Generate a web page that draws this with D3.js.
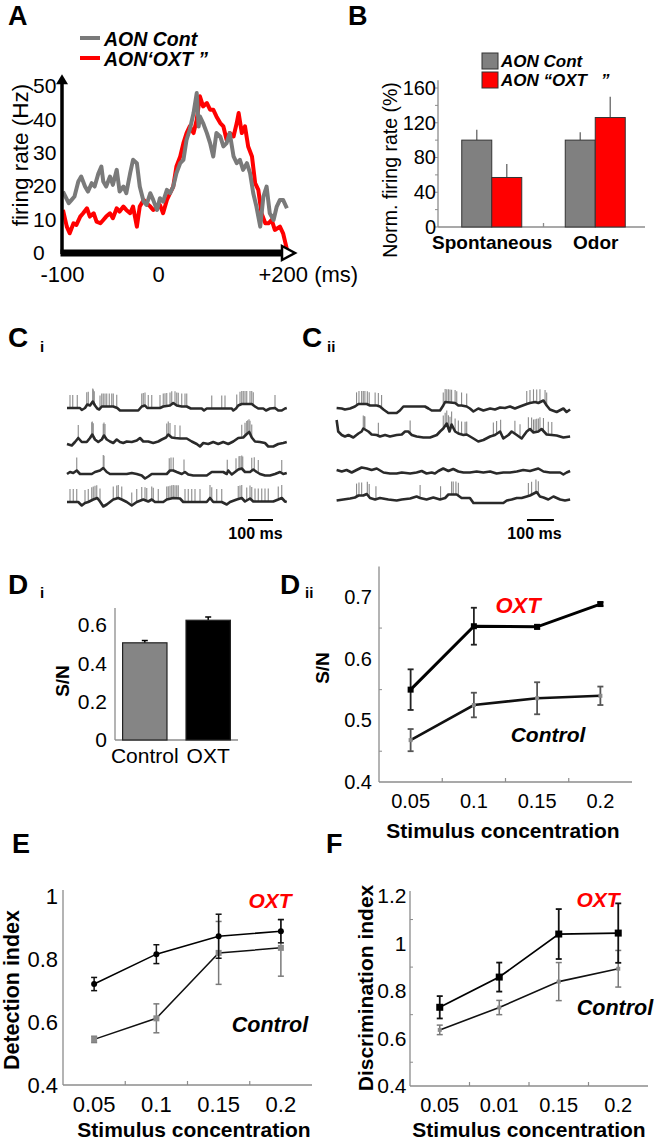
<!DOCTYPE html>
<html><head><meta charset="utf-8">
<script src="https://cdn.jsdelivr.net/npm/d3@7"></script>
<style>body{margin:0;background:#fff}</style>
</head><body>
<svg id="c" width="656" height="1140" xmlns="http://www.w3.org/2000/svg"></svg>
<script>
// ---------------- DATA ----------------
// Panel A: PSTH traces [ms, Hz]
const aXTicks = [-100, 0, 200];
const aYTicks = [0, 10, 20, 30, 40, 50];
const aSeries = ["AON Cont", "AON‘OXT ”"];
const aGray = [[-99,18.4],[-93,14.9],[-90,15.9],[-87,16.9],[-83,21.4],[-80,22.9],[-76,19.9],[-73,18.4],[-69,20.9],[-66,19.9],[-62,23.9],[-59,25.9],[-57,21.4],[-54,19.9],[-50,22.9],[-47,20.4],[-43,24.9],[-40,18.4],[-36,19.9],[-33,17.9],[-29,23.9],[-26,27.9],[-22,26.9],[-19,19.9],[-15,15.4],[-12,14.4],[-8,17.9],[-5,15.9],[-1,12.9],[3,16.4],[8,15.4],[14,18.9],[19,17.9],[24,19.9],[29,23.9],[35,26.9],[40,27.9],[45,33.9],[50,36.9],[56,41.9],[61,47.9],[64,37.9],[66,40.9],[71,38.9],[77,35.9],[82,32.9],[87,28.9],[92,35.9],[98,34.9],[103,31.9],[108,32.9],[113,35.9],[119,28.9],[124,26.9],[129,27.9],[134,24.9],[140,26.9],[145,23.9],[150,17.9],[155,13.9],[161,7.9],[166,16.9],[171,19.9],[176,11.9],[182,9.9],[187,13.9],[192,15.9],[197,15.9],[203,13.4]];
const aRed = [[-99,12.9],[-95,7.9],[-92,5.9],[-88,8.9],[-85,8.4],[-81,10.9],[-78,11.9],[-74,13.4],[-71,10.9],[-67,11.9],[-64,9.4],[-60,8.9],[-57,9.9],[-54,10.9],[-50,11.9],[-47,10.4],[-43,13.4],[-40,12.4],[-36,13.9],[-33,12.9],[-29,11.9],[-26,13.9],[-22,7.9],[-19,13.9],[-15,15.9],[-12,14.9],[-8,13.9],[-5,12.9],[-1,13.4],[3,14.4],[8,11.9],[14,15.9],[19,17.9],[24,19.9],[29,25.9],[35,28.9],[40,32.9],[45,35.9],[50,37.9],[56,35.9],[61,39.9],[66,46.9],[71,43.9],[77,44.9],[82,42.9],[87,42.9],[92,40.9],[98,38.9],[103,37.9],[108,33.9],[113,35.9],[119,34.9],[124,38.9],[127,41.9],[132,35.9],[137,37.9],[142,31.9],[148,28.9],[153,20.9],[158,18.9],[163,11.9],[169,8.9],[174,8.9],[179,9.9],[184,6.9],[192,7.9],[197,5.9],[202,1.9],[204,0]];

// Panel B
const bGroups = ["Spontaneous", "Odor"];
const bSeries = ["AON Cont", "AON “OXT   ”"];
const bYTicks = [0, 40, 80, 120, 160];
const bValues = [[100, 57], [100, 126]];
const bErrTop = [[112, 72.5], [109, 150]];

// Panel C: traces, baseline [ms, mV] and spike times (ms)
const ciBase1 = [[0,0],[52,0],[59,-2],[72,0],[81,3.5],[92,2.5],[103,6.5],[112,2.5],[121,-0.5],[129,-1.5],[139,1.5],[159,1.5],[185,1.5],[201,0],[212,-2.5],[285,-2.5],[299,1.5],[312,2.5],[321,0],[372,0],[385,1.5],[412,2.5],[425,5],[439,2.5],[459,1.5],[479,1.5],[495,-0.5],[539,-0.5],[548,-2.5],[559,-0.5],[659,-0.5],[665,-2.5],[676,-0.5],[685,2.5],[699,4],[739,4],[752,1.5],[765,-0.5],[785,-0.5],[796,-2.5],[812,-0.5],[832,0],[845,-2.5],[859,-2.5],[872,-0.5],[879,0]];
const ciSpikes1 = [12,23,41,79,85,103,105,109,132,139,145,152,159,169,179,185,199,299,305,312,325,339,372,385,392,399,412,419,432,439,445,459,472,479,579,619,632,679,692,699,705,712,719,732,739,745,832];
const ciBase2 = [[0,-2],[19,-3.5],[32,0],[45,4],[59,0],[79,0],[92,4],[101,7.5],[112,2.5],[125,0],[139,2.5],[148,6.5],[159,2.5],[172,0.5],[185,-1],[199,2.5],[212,0],[225,-1],[239,0.5],[259,0],[279,1.5],[292,4],[305,0.5],[325,0.5],[345,-1],[365,0.5],[379,2.5],[396,4.5],[405,7.5],[419,4.5],[432,4],[452,3.5],[479,3.5],[499,0.5],[519,-2],[532,-4.5],[545,-1],[565,-2],[585,0],[605,-2],[625,0],[645,-2],[665,0.5],[685,4],[705,4.5],[719,8],[729,10],[739,4.5],[752,0.5],[772,0],[792,-1],[805,-4.5],[825,-4.5],[845,-2],[865,-1],[879,0]];
const ciSpikes2 = [45,99,101,105,145,148,152,399,405,412,432,452,699,712,719,723,728,732,739];
const ciBase3 = [[0,0],[12,2],[25,1],[39,3.5],[52,0],[99,0],[112,2],[132,3.5],[145,6],[159,2],[172,0],[239,0],[259,1],[279,0],[299,-1.5],[312,-4.5],[325,-2.5],[339,0],[399,0],[412,3.5],[425,3.5],[439,2],[459,0],[472,2],[485,-0.5],[505,-1.5],[559,-1.5],[579,2],[625,2],[639,0],[645,3.5],[659,-0.5],[672,2],[685,4.5],[699,5.5],[712,2],[732,2],[745,4.5],[759,2],[772,0],[792,-1.5],[812,-1.5],[832,0],[852,2],[865,0],[879,1]];
const ciSpikes3 = [39,145,148,409,416,425,468,641,676,688,692,699,703,739,749,765,859];
const ciBase4 = [[0,0],[45,0],[59,-3.5],[72,-1],[85,0],[105,2.5],[121,4],[132,0.5],[145,-4.5],[159,-2.5],[172,0],[185,2.5],[205,4],[219,2.5],[239,0],[259,-3.5],[279,0],[305,2.5],[325,0.5],[339,2.5],[352,0],[385,0],[399,2.5],[425,4],[452,3.5],[465,0],[532,0],[559,0],[572,4],[585,0],[619,0],[639,-2.5],[652,0],[679,2.5],[699,4],[712,0.5],[732,3.5],[745,0.5],[825,0.5],[845,2.5],[859,4],[872,0.5],[879,0]];
const ciSpikes4 = [12,25,39,72,85,99,105,112,119,132,185,199,205,219,259,279,299,312,319,339,345,365,399,405,412,419,425,432,439,445,472,485,499,512,532,572,579,599,619,685,692,699,719,732,739,752,765,779,792,805,845,859];

const ciiBase1 = [[6,0],[25,-0.5],[37,-1.5],[56,-0.5],[74,1.5],[87,4],[118,4],[130,2.5],[155,2.5],[167,1.5],[180,-1.5],[198,-5],[229,-5],[241,-2.5],[254,1.5],[334,1.5],[347,-0.5],[359,-2.5],[390,-2.5],[402,2.5],[409,6],[446,5],[458,2.5],[470,2.5],[489,1.5],[501,-0.5],[514,-3.5],[532,-0.5],[551,-2.5],[576,-0.5],[594,-1.5],[613,0.5],[631,0],[650,1.5],[668,-0.5],[687,1.5],[712,4],[724,5],[743,6],[755,5],[774,7.5],[786,2.5],[798,-1.5],[823,-4],[848,-0.5],[860,-4],[873,-1.5]];
const ciiSpikes1 = [80,89,99,105,111,120,127,149,161,173,402,409,415,421,427,433,446,452,470,489,712,724,737,749,761,780,786];
const ciiBase2 = [[6,15],[12,3.5],[25,0],[37,-1.5],[50,0],[68,-2.5],[87,1.5],[99,3.5],[105,6.5],[124,3.5],[136,0.5],[155,0],[167,-1.5],[186,0],[204,-1.5],[229,0],[248,0.5],[260,3.5],[272,3.5],[285,0],[303,-1.5],[328,-2.5],[353,-2.5],[378,0],[390,3.5],[402,6.5],[415,11.5],[425,3.5],[433,10.5],[446,3.5],[458,1.5],[477,0],[489,0.5],[514,-3.5],[532,-6.5],[551,-5],[576,-1.5],[594,0],[613,3.5],[625,-3.5],[644,0],[656,3.5],[675,0],[693,-3.5],[712,3.5],[724,6],[737,2.5],[755,3.5],[767,6],[786,0.5],[805,0],[823,-0.5],[848,-2.5],[873,-1.5]];
const ciiSpikes2 = [105,109,111,161,279,402,409,415,421,427,433,446,458,470,483,489,588,600,615,668,687,718,730,737,743,749,755,761,774,792,805];
const ciiBase3 = [[6,0],[25,-1.5],[43,0],[62,-2.5],[80,0],[99,2.5],[118,1.5],[136,0],[155,1.5],[180,-2.5],[204,-3.5],[229,-3.5],[248,-2.5],[279,-3.5],[303,-2.5],[322,-1],[340,-3.5],[359,-2.5],[371,-3.5],[384,-1],[402,1.5],[421,-1],[439,1],[458,-1.5],[477,-2.5],[501,-2.5],[526,-1.5],[551,-2.5],[576,-1.5],[600,-3.5],[625,-2.5],[650,-2.5],[675,-1.5],[699,0],[724,-1],[755,1.5],[774,-1.5],[798,-2.5],[836,-2.5],[848,-4.5],[860,-2.5],[873,-1]];
const ciiSpikes3 = [];
const ciiBase4 = [[6,-2.5],[31,-1.5],[56,-0.5],[74,0.5],[87,2.5],[105,2.5],[118,4],[130,0],[149,-1.5],[167,0],[198,-1.5],[229,-2.5],[248,-1.5],[279,-0.5],[303,1.5],[316,0],[340,-1.5],[365,0.5],[390,-1.5],[409,0],[421,3.5],[452,3.5],[470,0],[501,0],[514,-5],[539,-5],[625,-5],[638,-2.5],[656,-1.5],[675,0],[693,0],[712,1.5],[724,2.5],[749,6],[761,1.5],[774,0.5],[792,-1.5],[811,1.5],[836,-1.5],[854,-2.5],[873,-1.5]];
const ciiSpikes4 = [80,89,99,120,127,152,316,392,433,439,449,458,718,730,746,755];
const cScaleBarMs = 100;

// Panel Di
const diCats = ["Control", "OXT"];
const diYTicks = [0, 0.2, 0.4, 0.6];
const diValues = [0.508, 0.626];
const diErr = [0.012, 0.017];

// Panel Dii
const diiCats = ["0.05", "0.1", "0.15", "0.2"];
const diiYTicks = [0.4, 0.5, 0.6, 0.7];
const diiOxt = [0.550, 0.653, 0.652, 0.689];
const diiOxtErr = [0.033, 0.030, 0.003, 0.003];
const diiCtrl = [0.468, 0.525, 0.536, 0.540];
const diiCtrlErr = [0.018, 0.020, 0.026, 0.015];

// Panel E
const eCats = ["0.05", "0.1", "0.15", "0.2"];
const eYTicks = [0.4, 0.6, 0.8, 1];
const eOxt = [0.721, 0.816, 0.873, 0.889];
const eOxtErr = [0.021, 0.030, 0.070, 0.037];
const eCtrl = [0.545, 0.612, 0.820, 0.836];
const eCtrlErr = [0.010, 0.046, 0.100, 0.090];

// Panel F
const fCats = ["0.05", "0.01", "0.15", "0.2"];
const fYTicks = [0.4, 0.6, 0.8, 1, 1.2];
const fOxt = [0.731, 0.858, 1.039, 1.043];
const fOxtErr = [0.047, 0.061, 0.105, 0.125];
const fCtrl = [0.636, 0.730, 0.839, 0.893];
const fCtrlErr = [0.020, 0.030, 0.080, 0.077];

// ---------------- DRAWING ----------------
const FONT = '"Liberation Sans", Arial, Helvetica, sans-serif';
const RED = "#ff0000", GRAY = "#808080", AXG = "#8c8c8c";
const svg = d3.select("#c");

function label(x, y, s, size, o = {}) {
  const t = svg.append("text").attr("x", x).attr("y", y)
    .attr("font-size", size).attr("font-family", FONT)
    .attr("fill", o.fill || "#000")
    .attr("font-weight", o.bold ? "bold" : "normal")
    .attr("font-style", o.italic ? "italic" : "normal")
    .attr("text-anchor", o.anchor || "start")
    .style("white-space", "pre").text(s);
  if (o.rotate) t.attr("transform", `rotate(-90 ${x} ${y})`).attr("dominant-baseline", "central");
  return t;
}
function styleAxisText(sel, fs) {
  sel.select(".domain").remove();
  sel.attr("font-family", FONT);
  sel.selectAll("text").attr("font-size", fs).attr("fill", "#000").attr("font-family", FONT);
}
function line(x1, y1, x2, y2, stroke, w) {
  return svg.append("line").attr("x1", x1).attr("y1", y1).attr("x2", x2).attr("y2", y2)
    .attr("stroke", stroke).attr("stroke-width", w);
}

// Panel letters
label(8, 25, "A", 27, {bold: true});
label(348, 25, "B", 27, {bold: true});
label(8, 347, "C", 28, {bold: true}); label(40, 352, "i", 15, {bold: true});
label(302, 347, "C", 28, {bold: true}); label(327, 352, "ii", 15, {bold: true});
label(8, 594, "D", 28, {bold: true}); label(40, 598, "i", 15, {bold: true});
label(280, 594, "D", 28, {bold: true}); label(305, 598, "ii", 15, {bold: true});
label(12, 853, "E", 27, {bold: true});
label(326, 853, "F", 27, {bold: true});

// ---- Panel A ----
{
  const x = d3.scaleLinear().domain(aXTicks).range([62, 158, 285]);
  const y = d3.scaleLinear().domain([0, 50]).range([253, 86]);
  const ln = d3.line().x(d => x(d[0])).y(d => y(d[1]));
  svg.append("path").datum(aRed).attr("d", ln).attr("fill", "none").attr("stroke", RED)
    .attr("stroke-width", 4).attr("stroke-linejoin", "round");
  svg.append("path").datum(aGray).attr("d", ln).attr("fill", "none").attr("stroke", "#7a7a7a")
    .attr("stroke-width", 4).attr("stroke-linejoin", "round");
  // axes
  line(x(-100), y(0) + 1, x(-100), y(51), "#000", 3.5);
  svg.append("path").attr("d", `M${x(-100) - 6},${y(50.5)} L${x(-100) + 6},${y(50.5)} L${x(-100)},${y(53.5)} Z`).attr("fill", "#000");
  line(x(-100) - 1.5, y(0), x(200) - 2, y(0), "#000", 7);
  svg.append("path").attr("d", `M${x(200) - 3},${y(0) - 7} L${x(200) + 10},${y(0)} L${x(200) - 3},${y(0) + 7} Z`)
    .attr("fill", "#fff").attr("stroke", "#000").attr("stroke-width", 2.5).attr("stroke-linejoin", "miter");
  const ya = d3.axisLeft(y).tickValues(aYTicks).tickSize(0).tickPadding(0);
  svg.append("g").attr("transform", `translate(${x(-100)},0)`).call(ya)
    .call(s => styleAxisText(s, 21))
    .call(s => s.selectAll("text").attr("text-anchor", "start").attr("x", -29));
  const xa = d3.axisBottom(x).tickValues(aXTicks).tickSize(0).tickPadding(13.5)
    .tickFormat(d => d > 0 ? "+" + d + " (ms)" : String(d));
  svg.append("g").attr("transform", `translate(0,${y(0)})`).call(xa)
    .call(s => styleAxisText(s, 22))
    .call(s => s.selectAll("text").filter(d => d > 0).attr("text-anchor", "start").attr("x", -27));
  label(20, 155, "firing rate (Hz)", 22.5, {rotate: true, anchor: "middle"});
  // legend
  const lg = [["#7a7a7a", 38, 46], [RED, 58, 66]];
  aSeries.forEach((s, i) => {
    line(80, lg[i][1], 100, lg[i][1], lg[i][0], 4);
    label(104, lg[i][2], s, 19.5, {bold: true, italic: true});
  });
}

// ---- Panel B ----
{
  const x = d3.scalePoint().domain(bGroups).range([440, 647]).padding(0.5);
  const xi = d3.scaleBand().domain(bSeries).range([-30, 30]);
  const y = d3.scaleLinear().domain([0, 160]).range([227, 88]);
  const colors = [GRAY, RED];
  line(438, y(0), 438, y(169), AXG, 1.3);
  line(438, y(0), 645, y(0), AXG, 1.3);
  svg.append("g").selectAll("line").data(y.ticks(8)).join("line")
    .attr("x1", 435).attr("x2", 438).attr("y1", d => y(d)).attr("y2", d => y(d))
    .attr("stroke", AXG).attr("stroke-width", 1);
  const mid = (x(bGroups[0]) + x(bGroups[1])) / 2;
  line(mid, y(0), mid, y(0) - 4, AXG, 1.3);
  bGroups.forEach((g, i) => {
    bSeries.forEach((s, j) => {
      const v = bValues[i][j];
      line(x(g) + xi(s) + xi.bandwidth() / 2, y(v), x(g) + xi(s) + xi.bandwidth() / 2, y(bErrTop[i][j]), "#7a7a7a", 1.5);
      svg.append("rect").attr("x", x(g) + xi(s)).attr("width", xi.bandwidth())
        .attr("y", y(v)).attr("height", y(0) - y(v))
        .attr("fill", colors[j]).attr("stroke", "#333").attr("stroke-width", 1);
    });
  });
  const ya = d3.axisLeft(y).tickValues(bYTicks).tickSize(0).tickPadding(2);
  svg.append("g").attr("transform", "translate(438,0)").call(ya).call(s => styleAxisText(s, 20));
  const xa = d3.axisBottom(x).tickSize(0).tickPadding(9);
  svg.append("g").attr("transform", `translate(0,${y(0)})`).call(xa)
    .call(s => styleAxisText(s, 19)).call(s => s.selectAll("text").attr("font-weight", "bold"));
  label(390, 170, "Norm. firing rate (%)", 19.5, {rotate: true, anchor: "middle"});
  bSeries.forEach((s, j) => {
    svg.append("rect").attr("x", 482).attr("y", 53 + j * 19).attr("width", 16).attr("height", 16)
      .attr("fill", colors[j]).attr("stroke", "#333").attr("stroke-width", 1);
    label(501, 67 + j * 19, s, 17, {bold: true, italic: true});
  });
}

// ---- Panel C ----
function drawTraces(traces, x, baseYs) {
  traces.forEach(([base, spikes], k) => {
    const y = d3.scaleLinear().domain([0, 1]).range([baseYs[k], baseYs[k] - 1]);
    const interp = d3.scaleLinear().domain(base.map(d => d[0])).range(base.map(d => d[1])).clamp(true);
    svg.append("g").selectAll("line").data(spikes).join("line")
      .attr("x1", d => x(d)).attr("x2", d => x(d))
      .attr("y1", d => y(interp(d))).attr("y2", d => y(interp(d) + 13))
      .attr("stroke", "#8a8a8a").attr("stroke-width", 1.1);
    svg.append("path").datum(base)
      .attr("d", d3.line().x(d => x(d[0])).y(d => y(d[1])))
      .attr("fill", "none").attr("stroke", "#2a2a2a").attr("stroke-width", 2.6)
      .attr("stroke-linejoin", "round");
  });
}
{
  const xi = d3.scaleLinear().domain([0, 880]).range([67, 287]);
  drawTraces([[ciBase1, ciSpikes1], [ciBase2, ciSpikes2], [ciBase3, ciSpikes3], [ciBase4, ciSpikes4]], xi, [408, 442, 474, 502]);
  const s0 = xi.invert(248);
  line(xi(s0), 520, xi(s0 + cScaleBarMs), 520, "#000", 2);
  label((xi(s0) + xi(s0 + cScaleBarMs)) / 2 - 5, 539, cScaleBarMs + " ms", 16, {bold: true, anchor: "middle"});

  const xii = d3.scaleLinear().domain([0, 880]).range([335, 572]);
  drawTraces([[ciiBase1, ciiSpikes1], [ciiBase2, ciiSpikes2], [ciiBase3, ciiSpikes3], [ciiBase4, ciiSpikes4]], xii, [408, 435, 470, 498]);
  const s1 = xii.invert(527);
  line(xii(s1), 520, xii(s1 + cScaleBarMs), 520, "#000", 2);
  label((xii(s1) + xii(s1 + cScaleBarMs)) / 2 - 6, 539, cScaleBarMs + " ms", 16, {bold: true, anchor: "middle"});
}

// ---- Panel Di ----
{
  const x = d3.scaleBand().domain(diCats).range([115, 238]).paddingInner(0.3).paddingOuter(0.12);
  const y = d3.scaleLinear().domain([0, 0.69]).range([740, 608]);
  line(115, y(0), 115, y(0.69), AXG, 1.3);
  line(115, y(0), 238, y(0), AXG, 1.3);
  const fills = ["#858585", "#000"];
  diCats.forEach((c, i) => {
    const cx = x(c) + x.bandwidth() / 2;
    line(cx, y(diValues[i]), cx, y(diValues[i] + diErr[i]), "#000", 1.5);
    line(cx - 3, y(diValues[i] + diErr[i]), cx + 3, y(diValues[i] + diErr[i]), "#000", 1.5);
    svg.append("rect").attr("x", x(c)).attr("width", x.bandwidth())
      .attr("y", y(diValues[i])).attr("height", y(0) - y(diValues[i]))
      .attr("fill", fills[i]).attr("stroke", "#222").attr("stroke-width", 1.2);
  });
  const ya = d3.axisLeft(y).tickValues(diYTicks).tickSize(0).tickPadding(8).tickFormat(d => String(d));
  svg.append("g").attr("transform", "translate(115,0)").call(ya).call(s => styleAxisText(s, 21));
  const xa = d3.axisBottom(x).tickSize(0).tickPadding(8);
  svg.append("g").attr("transform", `translate(0,${y(0)})`).call(xa).call(s => styleAxisText(s, 21));
  label(62, 681, "S/N", 19, {bold: true, rotate: true, anchor: "middle"});
}

// ---- Line panels (Dii, E, F) ----
function seriesPanel(c) {
  const x = d3.scaleBand().domain(c.cats).range([c.x0, c.x1]);
  const cx = k => x(k) + x.bandwidth() / 2;
  const y = d3.scaleLinear().domain(c.yDom).range([c.yBot, c.yTop]);
  const y0 = y(c.yDom[0]);
  line(c.x0, y0, c.x0, y(c.yDom[1]), AXG, 1.3);
  line(c.x0, y0, c.x1, y0, AXG, 1.3);
  svg.append("g").selectAll("line").data(c.minor).join("line")
    .attr("x1", c.x0).attr("x2", c.x0 + 3).attr("y1", d => y(d)).attr("y2", d => y(d))
    .attr("stroke", AXG).attr("stroke-width", 1);
  svg.append("g").selectAll("line").data(c.cats.slice(1)).join("line")
    .attr("x1", d => x(d)).attr("x2", d => x(d)).attr("y1", y0).attr("y2", y0 - 4)
    .attr("stroke", AXG).attr("stroke-width", 1.2);
  const ya = d3.axisLeft(y).tickValues(c.yTicks).tickSize(0).tickPadding(c.yPad).tickFormat(d => String(d));
  svg.append("g").attr("transform", `translate(${c.x0},0)`).call(ya).call(s => styleAxisText(s, c.yFs));
  const xa = d3.axisBottom(x).tickSize(0).tickPadding(c.xPad);
  svg.append("g").attr("transform", `translate(0,${y0})`).call(xa).call(s => styleAxisText(s, c.xFs));
  c.series.forEach(s => {
    const pts = c.cats.map((k, i) => [cx(k), s.vals[i], s.errs[i]]);
    svg.append("path").datum(pts).attr("d", d3.line().x(d => d[0]).y(d => y(d[1])))
      .attr("fill", "none").attr("stroke", s.lineColor).attr("stroke-width", s.lineW);
    pts.forEach(([px, v, e]) => {
      line(px, y(v - e), px, y(v + e), s.errColor, s.errW);
      line(px - 3, y(v - e), px + 3, y(v - e), s.errColor, s.errW);
      line(px - 3, y(v + e), px + 3, y(v + e), s.errColor, s.errW);
    });
    pts.forEach(([px, v]) => {
      if (s.marker === "circle")
        svg.append("circle").attr("cx", px).attr("cy", y(v)).attr("r", s.mSize / 2).attr("fill", s.mColor);
      else
        svg.append("rect").attr("x", px - s.mSize / 2).attr("y", y(v) - s.mSize / 2)
          .attr("width", s.mSize).attr("height", s.mSize).attr("fill", s.mColor);
    });
  });
}

seriesPanel({
  cats: diiCats, x0: 379, x1: 632, yDom: [0.4, 0.75], yBot: 782, yTop: 566.5,
  yTicks: diiYTicks, minor: [0.45, 0.55, 0.65], yPad: 7, yFs: 20, xPad: 11.5, xFs: 20,
  series: [
    {vals: diiCtrl, errs: diiCtrlErr, lineColor: "#111", lineW: 2.6, errColor: "#555", errW: 1.8, marker: "square", mSize: 4, mColor: "#8a8a8a"},
    {vals: diiOxt, errs: diiOxtErr, lineColor: "#000", lineW: 3, errColor: "#222", errW: 1.8, marker: "square", mSize: 6, mColor: "#000"}
  ]
});
label(518, 613, "OXT", 22, {bold: true, italic: true, fill: RED, anchor: "middle"});
label(548, 742, "Control", 21, {bold: true, italic: true, anchor: "middle"});
label(503, 838, "Stimulus concentration", 21, {bold: true, anchor: "middle"});
label(322, 668, "S/N", 19, {bold: true, rotate: true, anchor: "middle"});

seriesPanel({
  cats: eCats, x0: 63, x1: 312, yDom: [0.4, 1.02], yBot: 1085, yTop: 890,
  yTicks: eYTicks, minor: [], yPad: 5, yFs: 22, xPad: 11, xFs: 22,
  series: [
    {vals: eCtrl, errs: eCtrlErr, lineColor: "#111", lineW: 1.5, errColor: "#7a7a7a", errW: 1.5, marker: "square", mSize: 6, mColor: "#8a8a8a"},
    {vals: eOxt, errs: eOxtErr, lineColor: "#000", lineW: 1.5, errColor: "#111", errW: 1.5, marker: "circle", mSize: 6, mColor: "#000"}
  ]
});
label(270, 908, "OXT", 21, {bold: true, italic: true, fill: RED, anchor: "middle"});
label(270, 1032, "Control", 21.5, {bold: true, italic: true, anchor: "middle"});
label(194, 1137, "Stimulus concentration", 21, {bold: true, anchor: "middle"});
label(12, 990, "Detection index", 21.5, {bold: true, rotate: true, anchor: "middle"});

seriesPanel({
  cats: fCats, x0: 410, x1: 648, yDom: [0.4, 1.22], yBot: 1086, yTop: 891,
  yTicks: fYTicks, minor: [0.5, 0.7, 0.9, 1.1], yPad: 3.5, yFs: 21, xPad: 11.5, xFs: 20,
  series: [
    {vals: fCtrl, errs: fCtrlErr, lineColor: "#111", lineW: 1.6, errColor: "#7a7a7a", errW: 1.5, marker: "square", mSize: 4, mColor: "#8a8a8a"},
    {vals: fOxt, errs: fOxtErr, lineColor: "#000", lineW: 1.8, errColor: "#111", errW: 1.8, marker: "square", mSize: 7, mColor: "#000"}
  ]
});
label(598, 907, "OXT", 21, {bold: true, italic: true, fill: RED, anchor: "middle"});
label(615, 1015, "Control", 21.5, {bold: true, italic: true, anchor: "middle"});
label(529, 1137, "Stimulus concentration", 21, {bold: true, anchor: "middle"});
label(365, 988, "Discrimination index", 21, {bold: true, rotate: true, anchor: "middle"});
</script>
</body></html>
